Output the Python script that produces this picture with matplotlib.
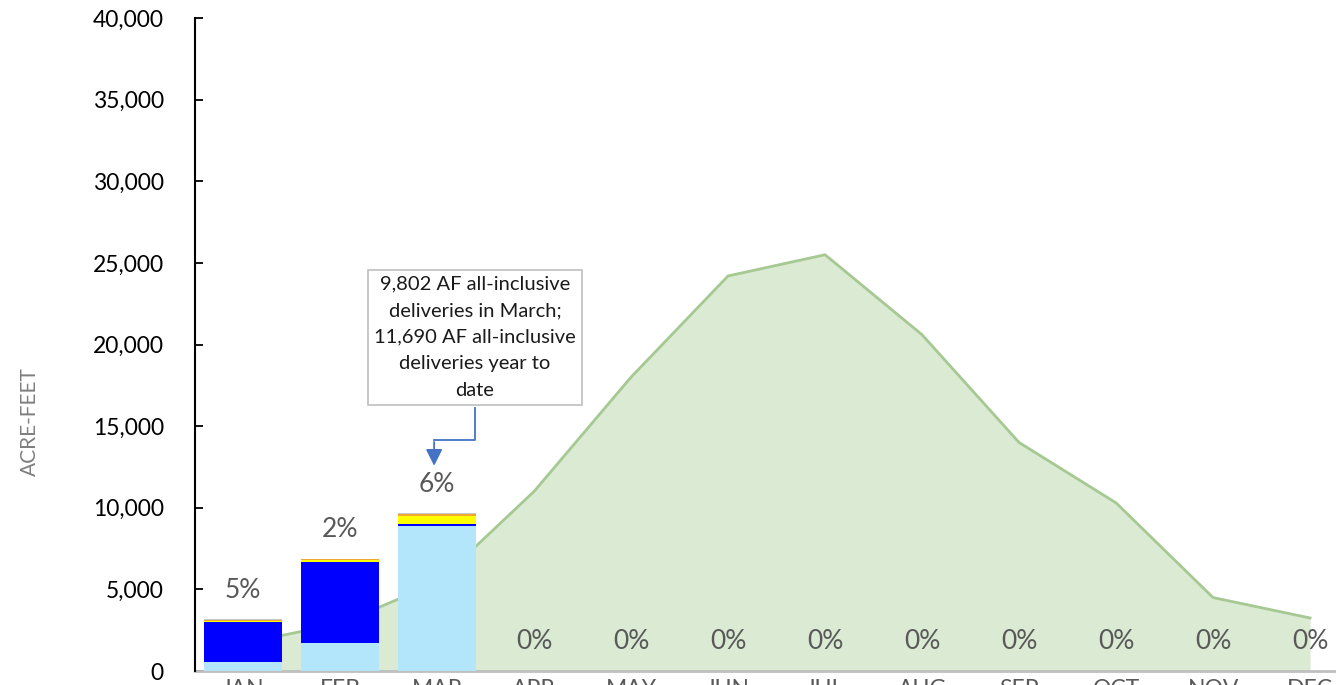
import matplotlib.pyplot as plt
import numpy as np

months = ["JAN", "FEB", "MAR", "APR", "MAY", "JUN", "JUL", "AUG", "SEP", "OCT", "NOV", "DEC"]

# monthly delivery pattern (green area)
pattern = [1700, 2900, 5400, 11000, 18000, 24200, 25500, 20600, 14000, 10300, 4500, 3250]

# stacked delivery components, Jan-Mar only
light_blue = [550, 1730, 8880]
blue = [2440, 4970, 140]
yellow = [90, 80, 480]
orange = [50, 60, 100]
grey = [30, 20, 60]

pct_labels = ["5%", "2%", "6%", "0%", "0%", "0%", "0%", "0%", "0%", "0%", "0%", "0%"]
bar_tops = [3160, 6860, 9660, 0, 0, 0, 0, 0, 0, 0, 0, 0]

note = "9,802 AF all-inclusive\ndeliveries in March;\n11,690 AF all-inclusive\ndeliveries year to\ndate"

plt.rcParams['font.family'] = ['Lato', 'DejaVu Sans']

fig = plt.figure(figsize=(13.36, 6.85), dpi=100)
ax = fig.add_axes([0.1456, 0.0204, 0.8713, 0.9533])

x = np.arange(len(months))
ax.fill_between(x, pattern, 0, color='#DAEAD3', zorder=1, linewidth=0)
ax.plot(x, pattern, color='#A6C993', linewidth=2, zorder=2)

xb = x[:3]
bottom = np.zeros(3)
for vals, col in [(light_blue, '#B4E6FB'), (blue, '#0000FF'), (yellow, '#FFFF00'),
                  (orange, '#F0A830'), (grey, '#C8C8C8')]:
    ax.bar(xb, vals, bottom=bottom, width=0.8, color=col, zorder=3, linewidth=0)
    bottom += np.array(vals)

for xi, top, lab in zip(x, bar_tops, pct_labels):
    ax.annotate(lab, (xi, top), xytext=(0, 21), textcoords='offset points',
                ha='center', va='center', fontsize=19, color='#595959', zorder=5)

# callout box with elbow arrow to the March bar
ax.text(2.39, 20450, note, ha='center', va='center', fontsize=14.5, color='#1A1A1A',
        linespacing=1.68, zorder=6,
        bbox=dict(boxstyle='square,pad=0.3', facecolor='white', edgecolor='#BFBFBF', linewidth=1.2))
ax.plot([2.39, 2.39, 1.97], [16100, 14150, 14150], color='#4472C4', linewidth=1.3, zorder=6)
ax.annotate('', xy=(1.97, 12400), xytext=(1.97, 14200),
            arrowprops=dict(arrowstyle='-|>,head_length=1.0,head_width=0.5',
                            color='#4472C4', linewidth=1.3), zorder=6)

ax.set_xlim(-0.5, 11.5)
ax.set_ylim(0, 40000)
ax.set_yticks(np.arange(0, 40001, 5000))
ax.set_yticklabels([f"{v:,}" for v in range(0, 40001, 5000)])
ax.set_xticks(x)
ax.set_xticklabels(months)

ax.tick_params(axis='y', direction='in', length=6, width=1.3, pad=22, labelsize=16.5, colors='black')
ax.tick_params(axis='x', length=0, pad=6, labelsize=16.5, labelcolor='#595959')

for s in ['top', 'right']:
    ax.spines[s].set_visible(False)
ax.spines['left'].set_color('black')
ax.spines['left'].set_linewidth(1.5)
ax.spines['bottom'].set_color('#BFBFBF')
ax.spines['bottom'].set_linewidth(2)
ax.spines['left'].set_zorder(7)

fig.text(0.0225, 0.384, "ACRE-FEET", rotation=90, ha='center', va='center',
         fontsize=15, color='#7F7F7F')

fig.savefig("out.png", dpi=100)
